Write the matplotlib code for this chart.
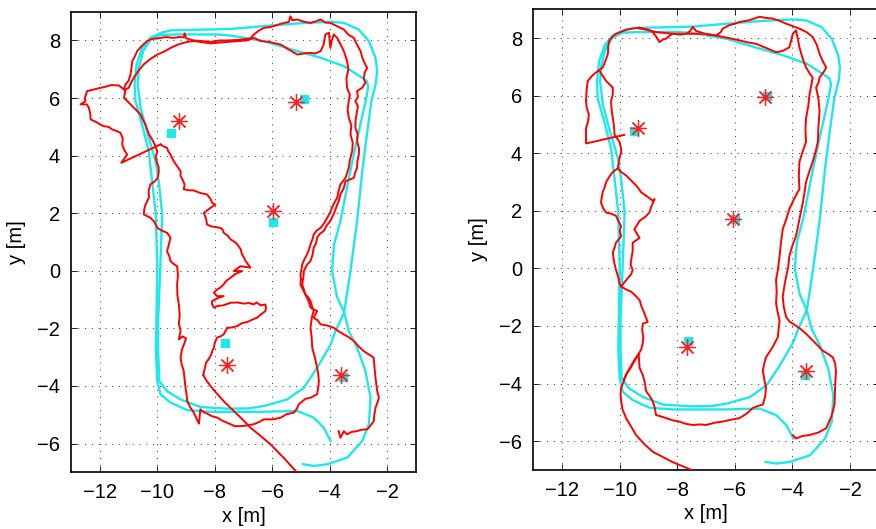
import matplotlib
matplotlib.use("Agg")
import matplotlib.pyplot as plt

plt.rcParams['font.family'] = ['Liberation Sans', 'DejaVu Sans']

# ground truth trajectory, (x, y) in metres, same in both panels
truth = [(-4.93, -6.72), (-4.56, -6.78), (-4.09, -6.72), (-3.39, -6.49), (-2.87, -5.91), (-2.64, -5.33),
         (-2.58, -4.41), (-2.76, -3.48), (-3.05, -2.67), (-3.34, -2.09), (-3.50, -1.45), (-3.75, -0.90),
         (-3.92, 0.00), (-3.85, 0.90), (-3.63, 1.73), (-3.30, 3.40), (-3.00, 4.80), (-2.75, 5.90),
         (-2.66, 6.40), (-2.72, 6.60), (-3.05, 6.82), (-3.51, 7.11), (-4.32, 7.40), (-5.13, 7.63),
         (-6.30, 7.98), (-7.45, 8.17), (-7.92, 8.21), (-9.31, 8.21), (-9.89, 8.19), (-10.24, 8.03),
         (-10.49, 7.63), (-10.64, 7.05), (-10.68, 6.47), (-10.58, 5.66), (-10.33, 4.74), (-10.06, 3.81),
         (-9.95, 3.11), (-9.83, 1.96), (-9.90, 0.00), (-9.97, -1.75), (-9.97, -2.80), (-9.93, -3.83),
         (-9.66, -4.18), (-9.19, -4.47), (-8.50, -4.73), (-7.57, -4.79), (-6.80, -4.78), (-6.30, -4.70),
         (-5.48, -4.47), (-4.90, -4.06), (-4.44, -3.37), (-3.97, -2.56), (-3.80, -2.09), (-3.50, -1.45),
         (-3.28, 0.00), (-3.05, 1.73), (-2.87, 3.46), (-2.70, 4.80), (-2.55, 5.90), (-2.40, 6.50),
         (-2.35, 6.95), (-2.41, 7.40), (-2.64, 7.98), (-2.99, 8.38), (-3.51, 8.61), (-3.98, 8.65),
         (-5.00, 8.60), (-6.29, 8.50), (-7.45, 8.40), (-8.73, 8.37), (-9.54, 8.35), (-9.89, 8.26),
         (-10.24, 8.09), (-10.53, 7.74), (-10.72, 7.17), (-10.79, 6.47), (-10.76, 5.89), (-10.53, 5.08),
         (-10.30, 4.16), (-10.18, 3.11), (-10.05, 1.96), (-10.00, 0.00), (-10.03, -1.75), (-10.05, -2.80),
         (-10.00, -3.83), (-9.89, -4.29), (-9.54, -4.58), (-8.96, -4.84), (-8.15, -4.90), (-6.41, -4.90),
         (-5.13, -4.87), (-4.56, -5.10), (-4.21, -5.45), (-3.97, -5.91)]

# true landmarks
lm_x = [-9.52, -4.89, -5.98, -7.64, -3.55]
lm_y = [4.79, 5.98, 1.70, -2.52, -3.69]

# ---------------- left panel: estimated landmarks and trajectory pieces
est1_lm_x = [-9.23, -5.19, -5.98, -7.57, -3.62]
est1_lm_y = [5.22, 5.87, 2.09, -3.28, -3.61]

left_start = [(-5.10, -7.05), (-5.60, -6.50), (-6.06, -6.03), (-6.45, -5.70), (-6.76, -5.45), (-7.05, -5.15),
              (-7.34, -4.87), (-7.60, -4.62), (-7.80, -4.41), (-8.00, -4.18), (-8.15, -4.00), (-8.30, -3.80),
              (-8.40, -3.62)]
left_center = [(-8.40, -3.62), (-8.35, -3.40), (-8.30, -3.19), (-8.20, -3.05), (-8.12, -2.90), (-8.09, -2.79),
               (-8.03, -2.67), (-8.00, -2.50), (-7.92, -2.32), (-7.80, -2.28), (-7.69, -2.21), (-7.62, -2.08),
               (-7.57, -1.98), (-7.40, -1.97), (-7.22, -1.92), (-7.05, -1.82), (-6.87, -1.78), (-6.70, -1.70),
               (-6.53, -1.63), (-6.40, -1.52), (-6.24, -1.40), (-6.22, -1.28), (-6.24, -1.17), (-6.40, -1.20),
               (-6.55, -1.10), (-6.64, -1.17), (-6.80, -1.12), (-7.00, -1.14), (-7.20, -1.10), (-7.45, -1.11),
               (-7.70, -1.20), (-7.90, -1.22), (-8.03, -1.28), (-8.10, -1.15), (-8.09, -1.05), (-7.90, -0.95),
               (-7.69, -0.88), (-7.92, -0.88), (-8.03, -0.76), (-7.92, -0.65), (-7.80, -0.58), (-7.69, -0.47),
               (-7.60, -0.35), (-7.45, -0.24), (-7.30, -0.12), (-7.05, -0.01), (-7.34, -0.01), (-7.11, 0.16),
               (-6.76, 0.11), (-6.93, 0.34), (-6.98, 0.45), (-7.05, 0.57), (-7.10, 0.75), (-7.22, 0.92),
               (-7.30, 1.00), (-7.45, 1.09), (-7.55, 1.22), (-7.69, 1.32), (-7.72, 1.42), (-7.80, 1.49),
               (-8.00, 1.52), (-8.15, 1.55), (-8.27, 1.61), (-8.30, 1.80), (-8.38, 2.01), (-8.20, 2.15),
               (-7.98, 2.30), (-8.09, 2.36), (-8.15, 2.50), (-8.27, 2.65), (-8.50, 2.70), (-8.73, 2.79),
               (-8.90, 2.80), (-9.08, 2.83), (-9.05, 3.00), (-9.10, 3.12), (-9.19, 3.30), (-9.19, 3.46),
               (-9.30, 3.62), (-9.43, 3.81), (-9.50, 3.95), (-9.54, 4.04), (-9.62, 4.15), (-9.66, 4.27),
               (-9.78, 4.32), (-9.89, 4.39)]
left_blob = [(-9.89, 4.39), (-11.25, 3.75), (-11.18, 3.85), (-11.05, 4.04), (-11.15, 4.20), (-11.22, 4.39),
             (-11.20, 4.60), (-11.28, 4.79), (-11.40, 4.85), (-11.55, 4.90), (-11.70, 5.00), (-11.85, 5.02),
             (-11.98, 5.08), (-12.15, 5.18), (-12.32, 5.26), (-12.33, 5.45), (-12.38, 5.66), (-12.45, 5.78),
             (-12.67, 5.78), (-12.50, 5.89), (-12.52, 6.00), (-12.44, 6.24), (-12.20, 6.30), (-12.00, 6.35),
             (-11.86, 6.38), (-11.60, 6.45), (-11.34, 6.44), (-11.16, 6.30)]
left_lap1 = [(-11.16, 6.30), (-11.11, 6.47), (-11.00, 6.60), (-10.93, 6.82), (-10.90, 7.05), (-10.87, 7.28),
             (-10.78, 7.45), (-10.70, 7.63), (-10.55, 7.80), (-10.35, 7.98), (-10.20, 8.05), (-10.00, 8.07),
             (-9.70, 8.12), (-9.43, 8.09), (-9.25, 8.12), (-9.08, 8.11), (-9.05, 8.25), (-9.00, 8.08),
             (-8.73, 8.00), (-8.45, 7.98), (-8.15, 7.95), (-7.85, 8.00), (-7.57, 8.00), (-7.20, 8.02),
             (-6.95, 8.05), (-6.76, 8.07), (-6.64, 8.21), (-6.45, 8.35), (-6.29, 8.44), (-6.10, 8.46),
             (-5.95, 8.50), (-5.70, 8.58), (-5.42, 8.65), (-5.37, 8.84), (-5.30, 8.70), (-5.13, 8.73),
             (-4.90, 8.65), (-4.67, 8.61), (-4.50, 8.66), (-4.32, 8.73), (-4.15, 8.62), (-3.98, 8.61),
             (-3.75, 8.50), (-3.51, 8.38), (-3.35, 8.20), (-3.16, 8.09), (-3.10, 7.95), (-3.05, 7.86),
             (-2.98, 7.72), (-2.93, 7.63), (-2.88, 7.45), (-2.82, 7.28), (-2.75, 7.15), (-2.70, 7.05),
             (-2.78, 6.90), (-2.82, 6.70), (-2.76, 6.53), (-2.87, 6.36), (-3.05, 6.24), (-3.02, 6.05),
             (-3.11, 5.89), (-3.02, 5.72), (-3.05, 5.55), (-3.10, 5.25), (-3.11, 4.97), (-3.03, 4.75),
             (-3.05, 4.50), (-2.98, 4.25), (-2.99, 4.04), (-3.04, 3.80), (-3.05, 3.58), (-3.12, 3.40),
             (-3.16, 3.23), (-3.35, 3.15), (-3.45, 3.11), (-3.52, 2.85), (-3.63, 2.65), (-3.68, 2.45),
             (-3.74, 2.30), (-3.85, 2.00), (-3.98, 1.73), (-4.10, 1.58), (-4.21, 1.38), (-4.35, 1.28),
             (-4.44, 1.15), (-4.48, 0.95), (-4.56, 0.80), (-4.60, 0.55), (-4.67, 0.34), (-4.80, 0.20),
             (-4.90, -0.01), (-4.92, -0.25), (-4.96, -0.47), (-4.90, -0.65), (-4.85, -0.82), (-4.75, -0.92),
             (-4.67, -1.05), (-4.62, -1.22), (-4.56, -1.40), (-4.62, -1.60), (-4.67, -1.98), (-4.63, -2.30),
             (-4.61, -2.67), (-4.52, -3.00), (-4.44, -3.37), (-4.40, -3.60), (-4.38, -3.83), (-4.40, -4.05),
             (-4.44, -4.29), (-4.67, -4.41), (-4.85, -4.45), (-5.08, -4.64), (-5.15, -4.80), (-5.25, -4.93),
             (-5.50, -4.98), (-5.70, -5.10), (-5.95, -5.16), (-6.29, -5.16), (-6.45, -5.25), (-6.64, -5.33),
             (-6.99, -5.39), (-7.30, -5.40), (-7.57, -5.28), (-7.75, -5.20), (-7.92, -5.10), (-8.10, -5.05),
             (-8.27, -4.96), (-8.40, -4.90), (-8.50, -4.81), (-8.55, -5.31), (-8.65, -5.10), (-8.73, -4.93),
             (-8.85, -4.75), (-8.96, -4.52), (-8.98, -4.30), (-9.02, -4.06), (-9.05, -3.75), (-9.08, -3.48),
             (-9.15, -3.25), (-9.19, -3.02), (-9.14, -2.73), (-9.05, -2.50), (-9.00, -2.35), (-9.12, -2.28),
             (-9.25, -2.38), (-9.19, -2.09), (-9.22, -1.95), (-9.25, -1.86), (-9.22, -1.55), (-9.25, -1.17),
             (-9.30, -0.85), (-9.31, -0.47), (-9.28, -0.15), (-9.31, 0.16), (-9.45, 0.25), (-9.54, 0.34),
             (-9.58, 0.50), (-9.66, 0.68), (-9.60, 0.90), (-9.54, 1.15), (-9.66, 1.32), (-9.85, 1.40),
             (-10.00, 1.49), (-10.10, 1.70), (-10.24, 1.84), (-10.47, 1.96), (-10.45, 2.15), (-10.41, 2.30),
             (-10.35, 2.42), (-10.29, 2.54), (-10.30, 2.78), (-10.24, 3.00), (-10.10, 3.10), (-10.00, 3.20),
             (-9.95, 3.40), (-9.95, 3.58), (-10.06, 3.92), (-10.00, 4.16), (-10.12, 4.45), (-10.20, 4.60),
             (-10.29, 4.74), (-10.35, 4.90), (-10.41, 5.08), (-10.50, 5.25), (-10.58, 5.43), (-10.75, 5.60),
             (-10.93, 5.78), (-11.05, 5.90), (-11.16, 6.01), (-11.10, 6.30)]
left_lap2 = [(-11.10, 6.30), (-10.99, 6.36), (-10.90, 6.55), (-10.82, 6.70), (-10.65, 6.95), (-10.47, 7.17),
             (-10.25, 7.35), (-10.00, 7.51), (-9.75, 7.62), (-9.54, 7.74), (-9.30, 7.85), (-9.08, 7.92),
             (-8.90, 7.96), (-8.73, 7.98), (-8.15, 7.90), (-7.57, 7.95), (-6.90, 8.00), (-6.64, 8.09),
             (-6.40, 7.98), (-6.10, 7.95), (-5.90, 7.90), (-5.71, 7.86), (-5.45, 7.70), (-5.13, 7.51),
             (-4.90, 7.55), (-4.67, 7.57), (-4.50, 7.55), (-4.32, 7.63), (-4.21, 7.86), (-4.18, 8.05),
             (-4.15, 8.21), (-4.03, 8.27), (-3.98, 7.74), (-3.93, 8.00), (-3.86, 8.21), (-3.74, 8.09),
             (-3.62, 7.85), (-3.51, 7.63), (-3.45, 7.45), (-3.40, 7.28), (-3.35, 7.00), (-3.42, 6.70),
             (-3.40, 6.36), (-3.30, 6.10), (-3.34, 5.89), (-3.38, 5.60), (-3.34, 5.32), (-3.25, 5.05),
             (-3.28, 4.74), (-3.20, 4.45), (-3.22, 4.16), (-3.30, 3.85), (-3.34, 3.58), (-3.45, 3.23),
             (-3.63, 3.00), (-3.70, 2.75), (-3.74, 2.54), (-3.85, 2.35), (-3.92, 2.19), (-4.00, 2.00),
             (-4.09, 1.84), (-4.20, 1.65), (-4.32, 1.49), (-4.45, 1.40), (-4.56, 1.26), (-4.60, 1.10),
             (-4.67, 0.92), (-4.72, 0.75), (-4.79, 0.57), (-4.88, 0.40), (-4.96, 0.22), (-4.98, 0.05),
             (-5.02, -0.13), (-5.00, -0.30), (-5.02, -0.47), (-4.90, -0.72), (-4.79, -0.94), (-4.72, -1.10),
             (-4.67, -1.28), (-4.44, -1.40), (-4.56, -1.63), (-4.42, -1.72), (-4.32, -1.86), (-4.10, -1.90),
             (-3.86, -1.98), (-3.70, -2.10), (-3.51, -2.21), (-3.35, -2.30), (-3.16, -2.44), (-3.00, -2.62),
             (-2.82, -2.79), (-2.65, -2.90), (-2.47, -3.02), (-2.45, -3.30), (-2.41, -3.71), (-2.38, -3.95),
             (-2.35, -4.18), (-2.29, -4.41), (-2.35, -4.60), (-2.41, -4.76), (-2.45, -5.00), (-2.47, -5.22),
             (-2.60, -5.40), (-2.70, -5.51), (-2.90, -5.52), (-3.05, -5.57), (-3.25, -5.60), (-3.40, -5.68),
             (-3.51, -5.57), (-3.63, -5.80), (-3.69, -5.57)]

# ---------------- right panel: estimated landmarks and trajectory pieces
est2_lm_x = [-9.37, -4.94, -6.06, -7.68, -3.53]
est2_lm_y = [4.87, 5.95, 1.73, -2.72, -3.57]

right_start = [(-7.46, -7.02), (-8.16, -6.73), (-8.85, -6.37), (-9.15, -6.10), (-9.43, -5.79), (-9.60, -5.50),
               (-9.78, -5.20), (-9.90, -4.90), (-9.95, -4.62), (-9.97, -4.35), (-9.95, -4.15), (-9.85, -3.90),
               (-9.78, -3.68), (-9.65, -3.50), (-9.55, -3.33), (-9.45, -3.15), (-9.34, -3.00)]
right_inner_left = [(-9.85, -3.85), (-9.70, -3.55), (-9.50, -3.20), (-9.30, -2.90), (-9.25, -2.80),
                    (-9.20, -2.60), (-9.18, -2.39), (-9.22, -2.15), (-9.20, -1.92), (-9.03, -1.86),
                    (-9.14, -1.57), (-9.25, -1.30), (-9.31, -1.10), (-9.45, -0.95), (-9.60, -0.81),
                    (-9.80, -0.72), (-9.95, -0.63), (-9.85, -0.50), (-9.72, -0.34), (-9.60, -0.20),
                    (-9.55, -0.05), (-9.62, 0.12), (-9.60, 0.30), (-9.55, 0.60), (-9.55, 0.89), (-9.31, 1.06),
                    (-9.40, 1.20), (-9.49, 1.36), (-9.40, 1.50), (-9.31, 1.65), (-9.10, 1.80), (-8.97, 1.94),
                    (-8.90, 2.15), (-8.79, 2.41), (-8.85, 2.35), (-9.05, 2.50), (-9.26, 2.65), (-9.35, 2.78),
                    (-9.43, 2.88), (-9.60, 3.05), (-9.78, 3.23), (-9.95, 3.35), (-10.07, 3.47)]
right_outer_left = [(-9.95, -0.63), (-10.01, -0.52), (-10.05, -0.30), (-10.13, -0.05), (-10.20, 0.25),
                    (-10.24, 0.54), (-10.18, 0.72), (-10.13, 0.89), (-9.95, 1.12), (-10.00, 1.30),
                    (-9.95, 1.47), (-10.05, 1.65), (-10.13, 1.83), (-10.30, 1.90), (-10.47, 1.94),
                    (-10.58, 2.10), (-10.65, 2.29), (-10.62, 2.48), (-10.59, 2.65), (-10.52, 2.82),
                    (-10.47, 3.00), (-10.35, 3.20), (-10.24, 3.35), (-10.07, 3.47)]
right_upper_left = [(-10.07, 3.47), (-10.01, 3.82), (-9.95, 4.05), (-9.95, 4.17), (-10.01, 4.40), (-10.18, 4.64),
                    (-10.20, 4.95), (-10.24, 5.22), (-10.28, 5.50), (-10.30, 5.81), (-10.24, 6.05),
                    (-10.24, 6.28), (-10.47, 6.51), (-10.60, 6.70), (-10.70, 6.86)]
right_far_left = [(-9.84, 4.64), (-11.17, 4.34), (-11.17, 4.87), (-11.10, 5.10), (-11.07, 5.34), (-11.15, 5.60),
                  (-11.17, 5.81), (-11.15, 6.20), (-11.11, 6.51), (-10.95, 6.70), (-10.82, 6.81), (-10.59, 6.98),
                  (-10.50, 7.20), (-10.41, 7.45), (-10.40, 7.70), (-10.36, 7.92), (-10.25, 8.05), (-10.13, 8.15),
                  (-9.95, 8.22), (-9.78, 8.29), (-9.55, 8.33), (-9.31, 8.36)]
right_outer = [(-9.31, 8.36), (-9.05, 8.30), (-8.85, 8.21), (-8.70, 8.00), (-8.62, 7.86), (-8.50, 7.95),
               (-8.39, 7.98), (-8.25, 8.10), (-8.16, 8.15), (-7.90, 8.12), (-7.69, 8.15), (-7.55, 8.25),
               (-7.46, 8.39), (-7.35, 8.25), (-7.23, 8.21), (-6.95, 8.12), (-6.65, 8.09), (-6.50, 8.20),
               (-6.42, 8.33), (-6.19, 8.45), (-6.00, 8.50), (-5.84, 8.56), (-5.50, 8.62), (-5.15, 8.74),
               (-4.90, 8.70), (-4.69, 8.68), (-4.45, 8.60), (-4.22, 8.50), (-4.00, 8.42), (-3.76, 8.33),
               (-3.50, 8.20), (-3.30, 8.04), (-3.15, 7.75), (-3.06, 7.45), (-2.95, 7.20), (-2.83, 6.98),
               (-2.90, 6.85), (-3.06, 6.63), (-3.10, 6.45), (-3.18, 6.28), (-3.10, 5.90), (-3.06, 5.46),
               (-3.10, 4.90), (-3.12, 4.40), (-3.20, 4.05), (-3.30, 3.70), (-3.42, 3.35), (-3.53, 3.00),
               (-3.58, 2.65), (-3.64, 2.29), (-3.70, 2.00), (-3.76, 1.71), (-3.82, 1.40), (-3.88, 1.12),
               (-4.00, 0.80), (-4.11, 0.42), (-4.15, 0.05), (-4.22, -0.28), (-4.28, -0.60), (-4.34, -0.98),
               (-4.30, -1.35), (-4.22, -1.69), (-4.10, -1.85), (-3.99, -1.92), (-3.75, -2.08), (-3.53, -2.27),
               (-3.25, -2.55), (-2.95, -2.86), (-2.75, -2.98), (-2.60, -3.09), (-2.52, -3.30), (-2.49, -3.56),
               (-2.52, -4.10), (-2.54, -4.73), (-2.65, -5.15), (-2.83, -5.55), (-3.10, -5.70), (-3.41, -5.79),
               (-3.65, -5.82), (-3.88, -5.91), (-3.99, -5.79)]
right_inner = [(-9.34, -3.00), (-9.31, -3.45), (-9.20, -3.70), (-9.14, -3.91), (-9.08, -4.27), (-8.95, -4.45),
               (-8.85, -4.62), (-8.78, -4.85), (-8.74, -5.09), (-8.55, -5.15), (-8.39, -5.20), (-8.15, -5.28),
               (-7.93, -5.32), (-7.70, -5.40), (-7.46, -5.44), (-7.20, -5.42), (-7.00, -5.44), (-6.70, -5.36),
               (-6.42, -5.32), (-6.10, -5.25), (-5.84, -5.20), (-5.60, -5.05), (-5.38, -4.85), (-5.20, -4.78),
               (-5.03, -4.73), (-4.95, -4.45), (-4.92, -4.15), (-4.98, -3.85), (-5.03, -3.56), (-4.98, -3.30),
               (-4.92, -3.09), (-4.70, -2.75), (-4.51, -2.39), (-4.48, -2.10), (-4.45, -1.81), (-4.52, -1.50),
               (-4.57, -1.22), (-4.55, -0.80), (-4.57, -0.40), (-4.50, 0.00), (-4.45, 0.42), (-4.40, 0.90),
               (-4.34, 1.36), (-4.22, 1.70), (-4.11, 2.06), (-3.95, 2.40), (-3.76, 2.76), (-3.78, 3.20),
               (-3.76, 3.70), (-3.65, 4.05), (-3.53, 4.40), (-3.55, 4.80), (-3.53, 5.22), (-3.45, 5.65),
               (-3.41, 6.04), (-3.35, 6.35), (-3.30, 6.63), (-3.42, 6.80), (-3.53, 6.98), (-3.65, 7.30),
               (-3.76, 7.68), (-3.82, 8.00), (-3.88, 8.27), (-3.99, 8.15), (-4.05, 7.90), (-4.11, 7.68),
               (-4.35, 7.55), (-4.57, 7.51), (-4.90, 7.65), (-5.26, 7.80), (-5.55, 7.85), (-5.84, 7.92),
               (-6.10, 7.98), (-6.42, 8.04), (-6.70, 8.10), (-7.00, 8.15), (-7.46, 8.15), (-7.80, 8.15),
               (-8.16, 8.15), (-8.45, 8.18), (-8.74, 8.21), (-9.00, 8.28), (-9.31, 8.33)]

left_pieces = [left_start, left_center, left_blob, left_lap1, left_lap2]
right_pieces = [right_start, right_inner_left, right_outer_left, right_upper_left,
                right_far_left, right_outer, right_inner]


fig = plt.figure(figsize=(8.76, 5.29), dpi=100)
ax1 = fig.add_axes([0.0811, 0.1072, 0.3938, 0.8707])
ax2 = fig.add_axes([0.6088, 0.1117, 0.3945, 0.8707])

panels = [(ax1, left_pieces, est1_lm_x, est1_lm_y),
          (ax2, right_pieces, est2_lm_x, est2_lm_y)]

tx, ty = zip(*truth)
for ax, pieces, lx, ly in panels:
    ax.plot(tx, ty, color='#1ee8ea', linewidth=1.7, zorder=2)
    for piece in pieces:
        px, py = zip(*piece)
        ax.plot(px, py, color='#ff0000', linewidth=1.4, zorder=3)
    ax.plot(lm_x, lm_y, 's', color='#1ee8ea', markersize=6, zorder=4)
    ax.plot(lx, ly, linestyle='none', marker=(8, 2, 0), color='#ff2020',
            markersize=12, markeredgewidth=0.9, zorder=5)

    ax.set_xlim(-13, -1)
    ax.set_ylim(-7, 9)
    ax.set_xticks([-12, -10, -8, -6, -4, -2])
    ax.set_yticks([-6, -4, -2, 0, 2, 4, 6, 8])
    ax.tick_params(direction='in', top=True, right=True, length=4, width=0.6,
                   labelsize=14.5, pad=8)
    ax.grid(True, color='#333333', linestyle=(0, (1, 6)), linewidth=0.7)
    for s in ax.spines.values():
        s.set_linewidth(1.2)
    ax.set_xlabel('x [m]', fontsize=14.5, labelpad=3)
    ax.set_ylabel('y [m]', fontsize=14.5, labelpad=8)

plt.savefig('out.png', dpi=100)
